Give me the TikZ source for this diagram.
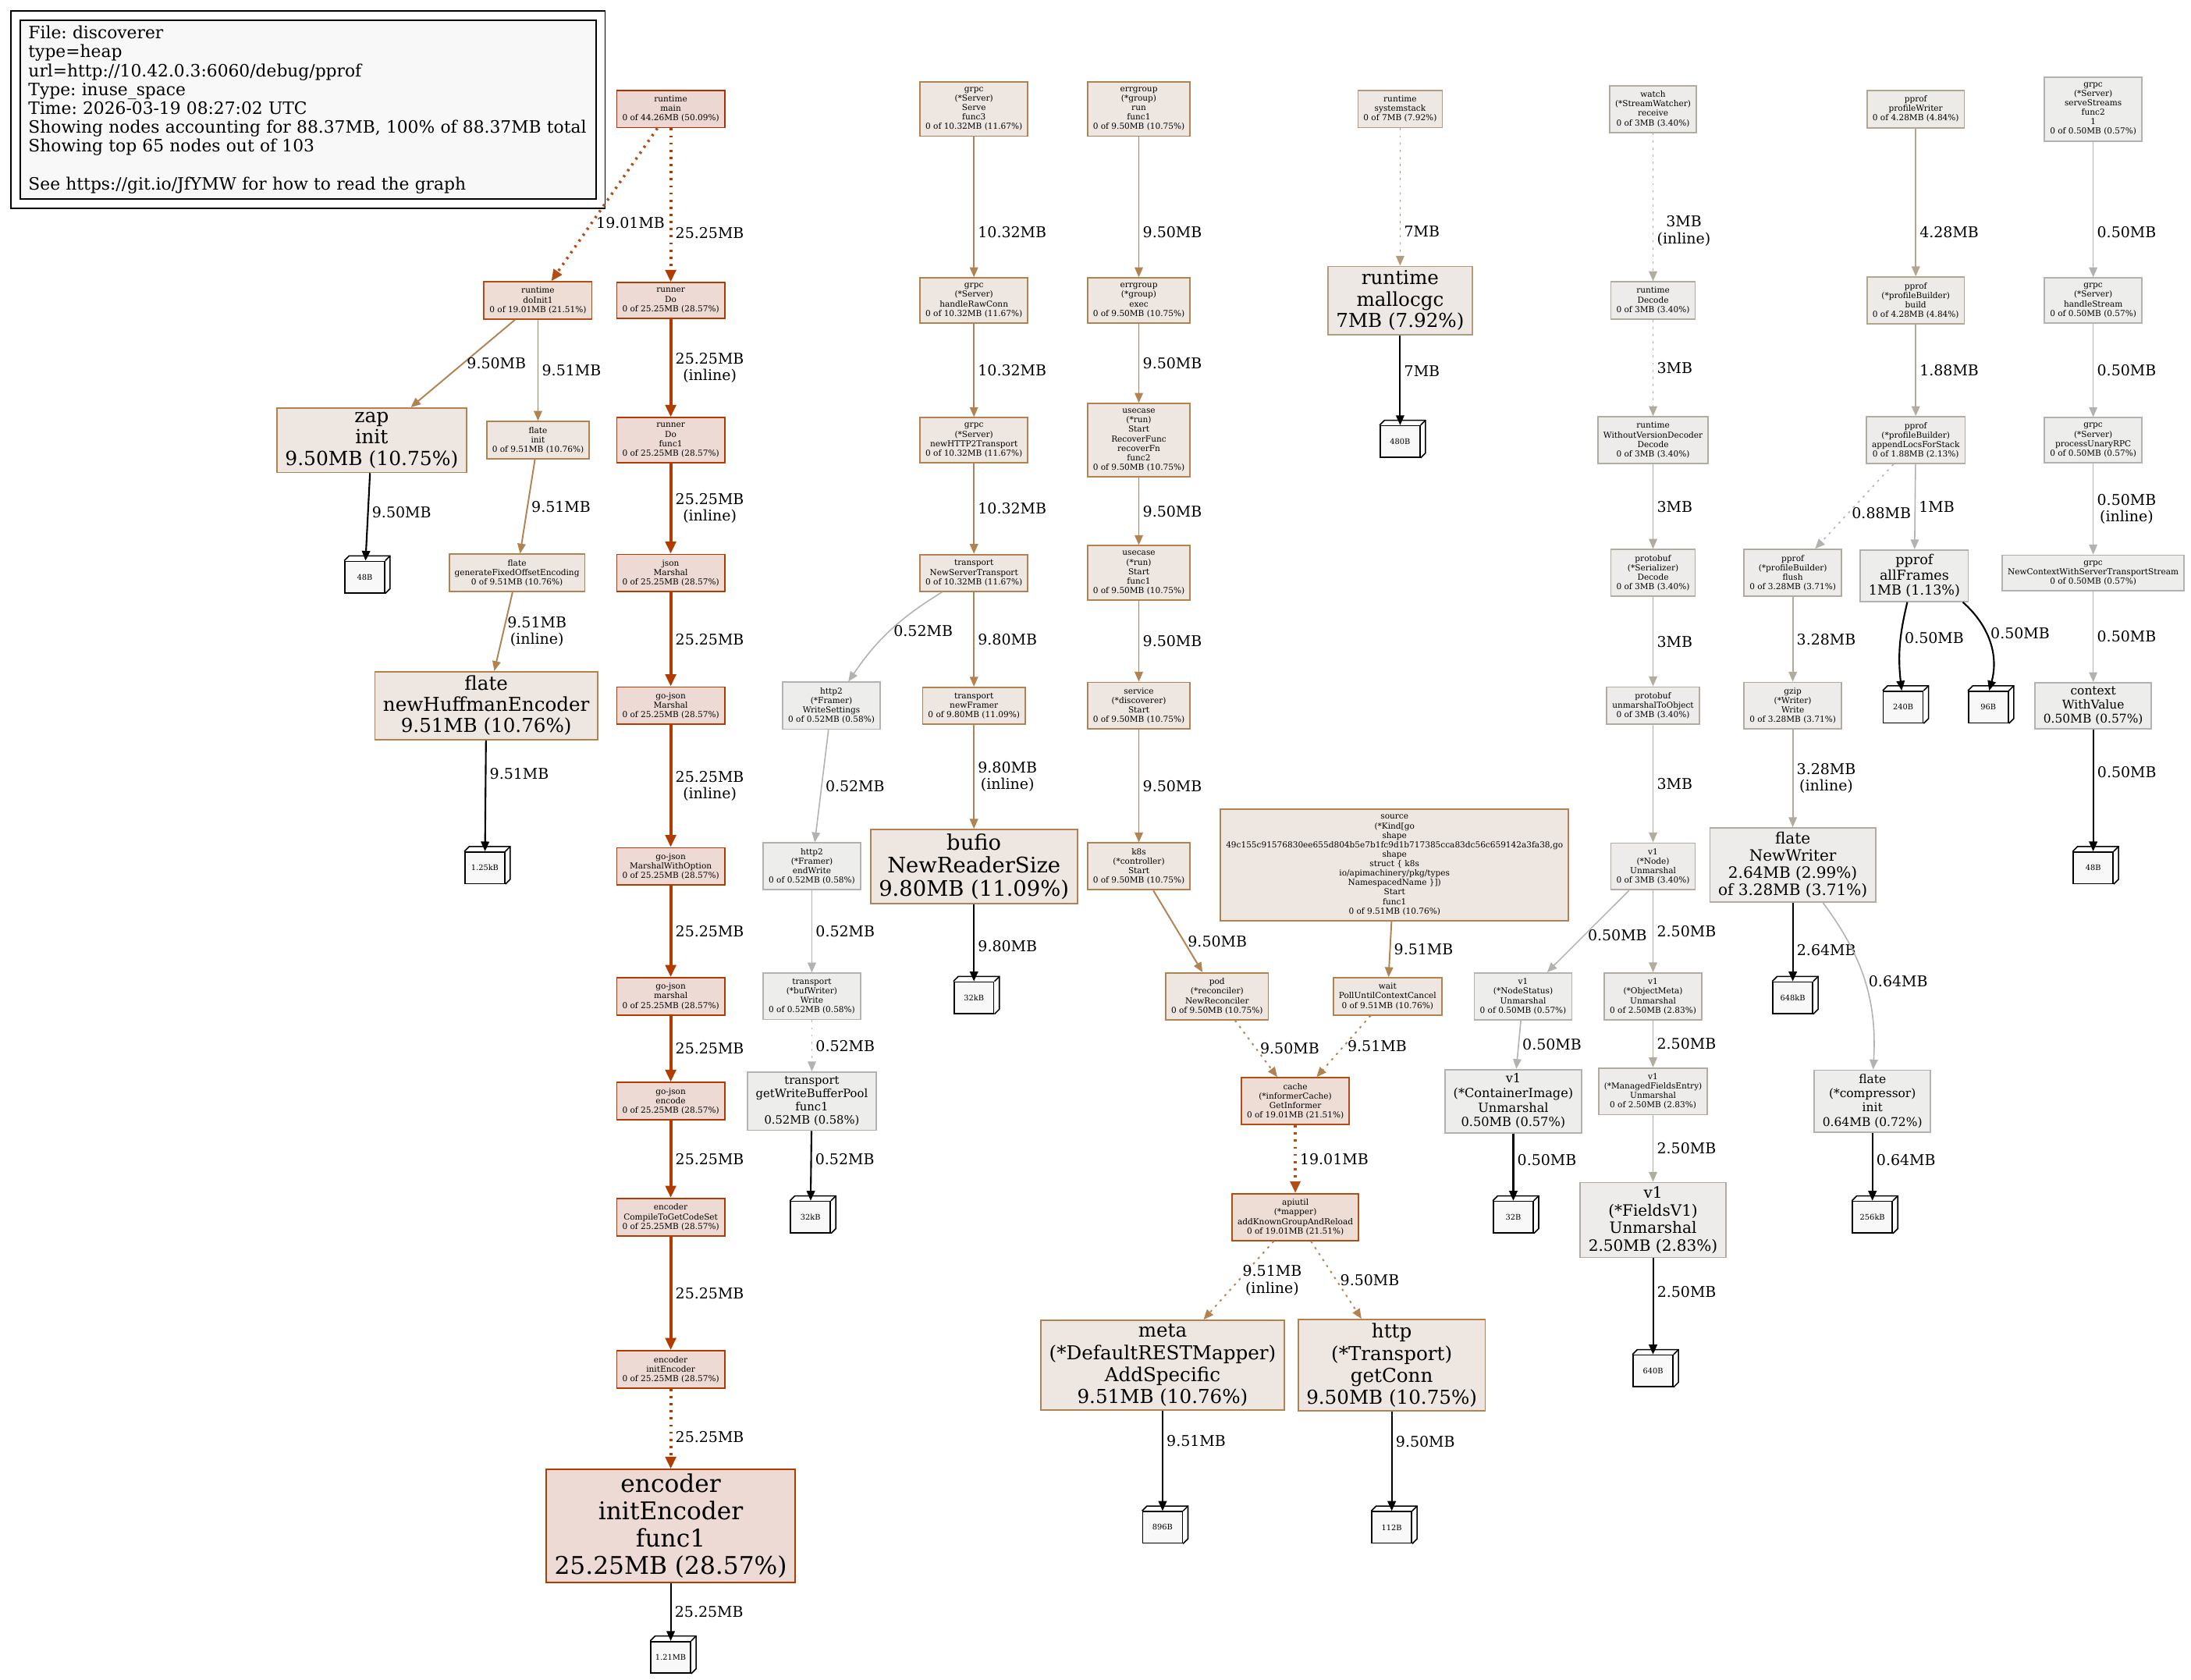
\documentclass[tikz,border=0pt]{standalone}
\usepackage{fontspec}
\setmainfont{DejaVu Serif}
\usetikzlibrary{arrows.meta,calc}
\frenchspacing
\definecolor{redln}{HTML}{B22E00}
\definecolor{hotln}{HTML}{B23C00}
\definecolor{orgln}{HTML}{B24D14}
\definecolor{tanln}{HTML}{B28350}
\definecolor{sandln}{HTML}{B29A7C}
\definecolor{beigeln}{HTML}{B2A68F}
\definecolor{greyln}{HTML}{B2ACA0}
\definecolor{lightln}{HTML}{B2B2B0}
\definecolor{redfl}{HTML}{EDD7D2}
\definecolor{hotfl}{HTML}{EDDAD5}
\definecolor{orgfl}{HTML}{EDDDD5}
\definecolor{tanfl}{HTML}{EDE6E1}
\definecolor{sandfl}{HTML}{EDE8E4}
\definecolor{beigefl}{HTML}{EDEBE8}
\definecolor{greyfl}{HTML}{EDECEA}
\definecolor{lightfl}{HTML}{EDEDEC}
\definecolor{memfl}{HTML}{F8F8F8}
\newcommand{\fz}[2]{\fontsize{#1}{#2}\selectfont}
% memory block drawn as a 3d box
\newcommand{\memblk}[3]{%
  \node[mem] (#1) at (#2) {#3};
  \draw[memside] (#1.north west) -- ++(3.5,-3.5) -| ($(#1.south east)+(3.5,-3.5)$) -- (#1.south east);
  \draw[memside] (#1.north east) -- ++(3.5,-3.5);}
\tikzset{
  fn/.style={draw, line width=0.5pt, align=center, inner xsep=2pt, inner ysep=2pt, font=\fz{3}{3.45}},
  big/.style={inner xsep=3pt, inner ysep=1.5pt},
  c50/.style={draw=redln, fill=redfl},
  c28/.style={draw=hotln, fill=hotfl},
  c21/.style={draw=orgln, fill=orgfl},
  c10/.style={draw=tanln, fill=tanfl},
  c8/.style={draw=sandln, fill=sandfl},
  c5/.style={draw=beigeln, fill=beigefl},
  c3/.style={draw=greyln, fill=greyfl},
  c0/.style={draw=lightln, fill=lightfl},
  mem/.style={draw=black, fill=memfl, line width=0.45pt, minimum width=14.5pt, minimum height=11.5pt, inner sep=1pt, font=\fz{2.8}{3.2}},
  memside/.style={draw=black, line width=0.45pt},
  lab/.style={right, align=center, font=\fz{5.4}{6.1}, inner sep=1.2pt, text=black},
  e28/.style={->, draw=hotln, line width=1.1pt, >={Triangle[length=4.4pt,width=3.8pt]}},
  e21/.style={->, draw=orgln, line width=1pt, >={Triangle[length=4.2pt,width=3.6pt]}},
  e10/.style={->, draw=tanln, line width=0.55pt},
  e8/.style={->, draw=sandln, line width=0.5pt},
  e5/.style={->, draw=beigeln, line width=0.5pt},
  e3/.style={->, draw=greyln, line width=0.5pt},
  e0/.style={->, draw=lightln, line width=0.45pt},
  eblk/.style={->, draw=black, line width=0.6pt},
  dotty/.style={dash pattern=on 0.8pt off 1.8pt},
  lgdbox/.style={draw, line width=0.5pt, fill=memfl, align=left, text width=204pt, inner xsep=3pt, inner ysep=2pt, font=\fz{6.2}{6.9}}
}
\begin{document}
\begin{tikzpicture}[x=0.01791cm, y=-0.01791cm, >={Triangle[length=3.6pt,width=3pt]}]
  \fill[white] (0,0) rectangle (1568,1202);
  \useasboundingbox (0,0) rectangle (1568,1202);
  % legend
  \node[lgdbox, anchor=north west] (lgd) at (14,14) {File: discoverer\\type=heap\\url=http://10.42.0.3:6060/debug/pprof\\Type: inuse\_space\\Time: 2026-03-19 08:27:02 UTC\\Showing nodes accounting for 88.37MB, 100\% of 88.37MB total\\Showing top 65 nodes out of 103\\[6.9pt]See https://git.io/JfYMW for how to read the graph};
  \draw[line width=0.5pt] ($(lgd.north west)+(-6,-6)$) rectangle ($(lgd.south east)+(6,6)$);

  % runtime main chain
  \node[fn,c50] (rtmain) at (480,78) {runtime\\main\\0 of 44.26MB (50.09\%)};
  \node[fn,c21] (doinit) at (385,215) {runtime\\doInit1\\0 of 19.01MB (21.51\%)};
  \node[fn,c28] (rdo) at (480,215) {runner\\Do\\0 of 25.25MB (28.57\%)};
  \node[fn,big,c10,font=\fz{7.1}{7.8}] (zap) at (266,315) {zap\\init\\9.50MB (10.75\%)};
  \node[fn,c10] (flinit) at (385,315) {flate\\init\\0 of 9.51MB (10.76\%)};
  \node[fn,c28] (rdof) at (480,315) {runner\\Do\\func1\\0 of 25.25MB (28.57\%)};
  \memblk{m48a}{261,413}{48B}
  \node[fn,c10] (flgen) at (370,410) {flate\\generateFixedOffsetEncoding\\0 of 9.51MB (10.76\%)};
  \node[fn,c28] (jsonm) at (480,410) {json\\Marshal\\0 of 25.25MB (28.57\%)};
  \node[fn,big,c10,font=\fz{7}{7.7}] (huff) at (348,505) {flate\\newHuffmanEncoder\\9.51MB (10.76\%)};
  \node[fn,c28] (gojm) at (480,505) {go-json\\Marshal\\0 of 25.25MB (28.57\%)};
  \memblk{m125}{347,621}{1.25kB}
  \node[fn,c28] (gojmwo) at (480,620) {go-json\\MarshalWithOption\\0 of 25.25MB (28.57\%)};
  \node[fn,c28] (gojmar) at (480,713) {go-json\\marshal\\0 of 25.25MB (28.57\%)};
  \node[fn,c28] (gojenc) at (480,788) {go-json\\encode\\0 of 25.25MB (28.57\%)};
  \node[fn,c28] (enccomp) at (480,871) {encoder\\CompileToGetCodeSet\\0 of 25.25MB (28.57\%)};
  \node[fn,c28] (encinit) at (480,980) {encoder\\initEncoder\\0 of 25.25MB (28.57\%)};
  \node[fn,big,c28,font=\fz{8.9}{10}] (encf1) at (480,1092) {encoder\\initEncoder\\func1\\25.25MB (28.57\%)};
  \memblk{m121}{480,1186}{1.21MB}

  % grpc serve chain
  \node[fn,c10] (gserve) at (697,78) {grpc\\(*Server)\\Serve\\func3\\0 of 10.32MB (11.67\%)};
  \node[fn,c10] (ghraw) at (697,215) {grpc\\(*Server)\\handleRawConn\\0 of 10.32MB (11.67\%)};
  \node[fn,c10] (gnewh2) at (697,315) {grpc\\(*Server)\\newHTTP2Transport\\0 of 10.32MB (11.67\%)};
  \node[fn,c10] (tnst) at (697,410) {transport\\NewServerTransport\\0 of 10.32MB (11.67\%)};
  \node[fn,c0] (h2ws) at (595,505) {http2\\(*Framer)\\WriteSettings\\0 of 0.52MB (0.58\%)};
  \node[fn,c10] (tnf) at (697,505) {transport\\newFramer\\0 of 9.80MB (11.09\%)};
  \node[fn,c0] (h2ew) at (581,620) {http2\\(*Framer)\\endWrite\\0 of 0.52MB (0.58\%)};
  \node[fn,big,c10,font=\fz{7.8}{8.4}] (bufio) at (697,620) {bufio\\NewReaderSize\\9.80MB (11.09\%)};
  \node[fn,c0] (tbw) at (581,713) {transport\\(*bufWriter)\\Write\\0 of 0.52MB (0.58\%)};
  \memblk{m32ka}{697,714}{32kB}
  \node[fn,big,c0,font=\fz{4.2}{4.9}] (tgwb) at (581,788) {transport\\getWriteBufferPool\\func1\\0.52MB (0.58\%)};
  \memblk{m32kb}{580,871}{32kB}

  % errgroup chain
  \node[fn,c10] (egrun) at (815,78) {errgroup\\(*group)\\run\\func1\\0 of 9.50MB (10.75\%)};
  \node[fn,c10] (egexec) at (815,215) {errgroup\\(*group)\\exec\\0 of 9.50MB (10.75\%)};
  \node[fn,c10] (ucrec) at (815,315) {usecase\\(*run)\\Start\\RecoverFunc\\recoverFn\\func2\\0 of 9.50MB (10.75\%)};
  \node[fn,c10] (ucstart) at (815,410) {usecase\\(*run)\\Start\\func1\\0 of 9.50MB (10.75\%)};
  \node[fn,c10] (svc) at (815,505) {service\\(*discoverer)\\Start\\0 of 9.50MB (10.75\%)};
  \node[fn,c10] (k8s) at (815,620) {k8s\\(*controller)\\Start\\0 of 9.50MB (10.75\%)};
  \node[fn,c10] (pod) at (871,713) {pod\\(*reconciler)\\NewReconciler\\0 of 9.50MB (10.75\%)};
  \node[fn,c10] (src) at (998,619) {source\\(*Kind[go\\shape\\49c155c91576830ee655d804b5e7b1fc9d1b717385cca83dc56c659142a3fa38,go\\shape\\struct \{ k8s\\io/apimachinery/pkg/types\\NamespacedName \}])\\Start\\func1\\0 of 9.51MB (10.76\%)};
  \node[fn,c10] (wait) at (993,713) {wait\\PollUntilContextCancel\\0 of 9.51MB (10.76\%)};
  \node[fn,c21] (cache) at (927,788) {cache\\(*informerCache)\\GetInformer\\0 of 19.01MB (21.51\%)};
  \node[fn,c21] (apiutil) at (927,871) {apiutil\\(*mapper)\\addKnownGroupAndReload\\0 of 19.01MB (21.51\%)};
  \node[fn,big,c10,font=\fz{7}{8}] (meta) at (832,977) {meta\\(*DefaultRESTMapper)\\AddSpecific\\9.51MB (10.76\%)};
  \node[fn,big,c10,font=\fz{7}{8}] (http) at (996,977) {http\\(*Transport)\\getConn\\9.50MB (10.75\%)};
  \memblk{m896}{832,1093}{896B}
  \memblk{m112}{996,1093}{112B}

  % systemstack
  \node[fn,c8] (rtss) at (1002,78) {runtime\\systemstack\\0 of 7MB (7.92\%)};
  \node[fn,big,c8,font=\fz{7}{7.8}] (malloc) at (1002,215) {runtime\\mallocgc\\7MB (7.92\%)};
  \memblk{m480}{1002,316}{480B}

  % watch chain
  \node[fn,c3] (watch) at (1183,78) {watch\\(*StreamWatcher)\\receive\\0 of 3MB (3.40\%)};
  \node[fn,c3] (rtdec) at (1183,215) {runtime\\Decode\\0 of 3MB (3.40\%)};
  \node[fn,c3] (rtwvd) at (1183,315) {runtime\\WithoutVersionDecoder\\Decode\\0 of 3MB (3.40\%)};
  \node[fn,c3] (pbdec) at (1183,410) {protobuf\\(*Serializer)\\Decode\\0 of 3MB (3.40\%)};
  \node[fn,c3] (pbuto) at (1183,505) {protobuf\\unmarshalToObject\\0 of 3MB (3.40\%)};
  \node[fn,c3] (v1node) at (1183,620) {v1\\(*Node)\\Unmarshal\\0 of 3MB (3.40\%)};
  \node[fn,c0] (v1ns) at (1090,713) {v1\\(*NodeStatus)\\Unmarshal\\0 of 0.50MB (0.57\%)};
  \node[fn,c3] (v1om) at (1183,713) {v1\\(*ObjectMeta)\\Unmarshal\\0 of 2.50MB (2.83\%)};
  \node[fn,big,c0,font=\fz{4.6}{5.3}] (v1ci) at (1083,788) {v1\\(*ContainerImage)\\Unmarshal\\0.50MB (0.57\%)};
  \node[fn,c3] (v1mfe) at (1183,781) {v1\\(*ManagedFieldsEntry)\\Unmarshal\\0 of 2.50MB (2.83\%)};
  \memblk{m32b}{1083,871}{32B}
  \node[fn,big,c3,font=\fz{5.7}{6.4}] (v1fv1) at (1183,873) {v1\\(*FieldsV1)\\Unmarshal\\2.50MB (2.83\%)};
  \memblk{m640}{1183,981}{640B}

  % pprof chain
  \node[fn,c5] (ppw) at (1371,78) {pprof\\profileWriter\\0 of 4.28MB (4.84\%)};
  \node[fn,c5] (ppbuild) at (1371,215) {pprof\\(*profileBuilder)\\build\\0 of 4.28MB (4.84\%)};
  \node[fn,c3] (ppals) at (1371,315) {pprof\\(*profileBuilder)\\appendLocsForStack\\0 of 1.88MB (2.13\%)};
  \node[fn,c3] (ppflush) at (1283,410) {pprof\\(*profileBuilder)\\flush\\0 of 3.28MB (3.71\%)};
  \node[fn,big,c0,font=\fz{5}{5.6}] (ppaf) at (1370,412) {pprof\\allFrames\\1MB (1.13\%)};
  \node[fn,c3] (gzip) at (1283,505) {gzip\\(*Writer)\\Write\\0 of 3.28MB (3.71\%)};
  \memblk{m240}{1362,506}{240B}
  \memblk{m96}{1423,506}{96B}
  \node[fn,big,c3,font=\fz{5.7}{6.3}] (flnw) at (1283,619) {flate\\NewWriter\\2.64MB (2.99\%)\\of 3.28MB (3.71\%)};
  \memblk{m648}{1283,714}{648kB}
  \node[fn,big,c0,font=\fz{4.4}{5.2}] (flcomp) at (1340,788) {flate\\(*compressor)\\init\\0.64MB (0.72\%)};
  \memblk{m256}{1340,871}{256kB}

  % grpc stream chain
  \node[fn,c0] (gss) at (1498,78) {grpc\\(*Server)\\serveStreams\\func2\\1\\0 of 0.50MB (0.57\%)};
  \node[fn,c0] (ghs) at (1498,215) {grpc\\(*Server)\\handleStream\\0 of 0.50MB (0.57\%)};
  \node[fn,c0] (gpur) at (1498,315) {grpc\\(*Server)\\processUnaryRPC\\0 of 0.50MB (0.57\%)};
  \node[fn,c0] (gnc) at (1498,410) {grpc\\NewContextWithServerTransportStream\\0 of 0.50MB (0.57\%)};
  \node[fn,big,c0,font=\fz{4.4}{5}] (ctx) at (1498,505) {context\\WithValue\\0.50MB (0.57\%)};
  \memblk{m48b}{1498,621}{48B}

  % edges
  \draw[e21,dotty] (rtmain) -- node[lab,pos=.62]{19.01MB} (doinit);
  \draw[e28,dotty] (rtmain) -- node[lab,pos=.68]{25.25MB} (rdo);
  \draw[e10] (doinit) -- node[lab]{9.50MB} (zap);
  \draw[e10] (doinit) -- node[lab]{9.51MB} (flinit);
  \draw[e28] (rdo) -- node[lab]{25.25MB\\(inline)} (rdof);
  \draw[e28] (rdof) -- node[lab]{25.25MB\\(inline)} (jsonm);
  \draw[eblk] (zap) -- node[lab,pos=.45]{9.50MB} (m48a);
  \draw[e10] (flinit) -- node[lab]{9.51MB} (flgen);
  \draw[e28] (jsonm) -- node[lab]{25.25MB} (gojm);
  \draw[e10] (flgen) -- node[lab]{9.51MB\\(inline)} (huff);
  \draw[e28] (gojm) -- node[lab]{25.25MB\\(inline)} (gojmwo);
  \draw[eblk] (huff) -- node[lab,pos=.3]{9.51MB} (m125);
  \draw[e28] (gojmwo) -- node[lab]{25.25MB} (gojmar);
  \draw[e28] (gojmar) -- node[lab]{25.25MB} (gojenc);
  \draw[e28] (gojenc) -- node[lab]{25.25MB} (enccomp);
  \draw[e28] (enccomp) -- node[lab]{25.25MB} (encinit);
  \draw[e28,dotty] (encinit) -- node[lab,pos=.6]{25.25MB} (encf1);
  \draw[eblk] (encf1) -- node[lab]{25.25MB} (m121);

  \draw[e10] (gserve) -- node[lab,pos=.68]{10.32MB} (ghraw);
  \draw[e10] (ghraw) -- node[lab]{10.32MB} (gnewh2);
  \draw[e10] (gnewh2) -- node[lab]{10.32MB} (tnst);
  \draw[e0] (tnst) to[bend right=12] node[lab]{0.52MB} (h2ws);
  \draw[e10] (tnst) -- node[lab]{9.80MB} (tnf);
  \draw[e0] (h2ws) -- node[lab]{0.52MB} (h2ew);
  \draw[e10] (tnf) -- node[lab]{9.80MB\\(inline)} (bufio);
  \draw[e0] (h2ew) -- node[lab]{0.52MB} (tbw);
  \draw[eblk] (bufio) -- node[lab,pos=.55]{9.80MB} (m32ka);
  \draw[e0,dotty] (tbw) -- node[lab]{0.52MB} (tgwb);
  \draw[eblk] (tgwb) -- node[lab,pos=.4]{0.52MB} (m32kb);

  \draw[e10] (egrun) -- node[lab,pos=.68]{9.50MB} (egexec);
  \draw[e10] (egexec) -- node[lab]{9.50MB} (ucrec);
  \draw[e10] (ucrec) -- node[lab]{9.50MB} (ucstart);
  \draw[e10] (ucstart) -- node[lab]{9.50MB} (svc);
  \draw[e10] (svc) -- node[lab]{9.50MB} (k8s);
  \draw[e10] (k8s) -- node[lab,pos=.62]{9.50MB} (pod);
  \draw[e10] (src) -- node[lab]{9.51MB} (wait);
  \draw[e10,dotty] (pod) -- node[lab]{9.50MB} (cache);
  \draw[e10,dotty] (wait) -- node[lab]{9.51MB} (cache);
  \draw[e21,dotty] (cache) -- node[lab]{19.01MB} (apiutil);
  \draw[e10,dotty] (apiutil) -- node[lab]{9.51MB\\(inline)} (meta);
  \draw[e10,dotty] (apiutil) -- node[lab]{9.50MB} (http);
  \draw[eblk] (meta) -- node[lab,pos=.3]{9.51MB} (m896);
  \draw[eblk] (http) -- node[lab,pos=.3]{9.50MB} (m112);

  \draw[e8,dotty] (rtss) -- node[lab,pos=.75]{7MB} (malloc);
  \draw[eblk] (malloc) -- node[lab,pos=.4]{7MB} (m480);

  \draw[e3,dotty] (watch) -- node[lab,pos=.66]{3MB\\(inline)} (rtdec);
  \draw[e3,dotty] (rtdec) -- node[lab]{3MB} (rtwvd);
  \draw[e3] (rtwvd) -- node[lab]{3MB} (pbdec);
  \draw[e3] (pbdec) -- node[lab]{3MB} (pbuto);
  \draw[e3] (pbuto) -- node[lab]{3MB} (v1node);
  \draw[e0] (v1node) -- node[lab,pos=.55]{0.50MB} (v1ns);
  \draw[e3] (v1node) -- node[lab]{2.50MB} (v1om);
  \draw[e0] (v1ns) -- node[lab]{0.50MB} (v1ci);
  \draw[e3] (v1om) -- node[lab]{2.50MB} (v1mfe);
  \draw[eblk] (v1ci) -- node[lab,pos=.4]{0.50MB} (m32b);
  \draw[e3] (v1mfe) -- node[lab]{2.50MB} (v1fv1);
  \draw[eblk] (v1fv1) -- node[lab,pos=.35]{2.50MB} (m640);

  \draw[e5] (ppw) -- node[lab,pos=.7]{4.28MB} (ppbuild);
  \draw[e3] (ppbuild) -- node[lab]{1.88MB} (ppals);
  \draw[e0,dotty] (ppals) -- node[lab,pos=.58]{0.88MB} (ppflush);
  \draw[e0] (ppals) -- node[lab]{1MB} (ppaf);
  \draw[e3] (ppflush) -- node[lab]{3.28MB} (gzip);
  \draw[eblk] (ppaf) to[bend right=10] node[lab,pos=.4]{0.50MB} (m240);
  \draw[eblk] (ppaf) to[bend left=32] node[lab,pos=.4]{0.50MB} (m96);
  \draw[e3] (gzip) -- node[lab]{3.28MB\\(inline)} (flnw);
  \draw[eblk] (flnw) -- node[lab,pos=.6]{2.64MB} (m648);
  \draw[e0] (flnw) to[bend left=20] node[lab]{0.64MB} (flcomp);
  \draw[eblk] (flcomp) -- node[lab,pos=.4]{0.64MB} (m256);

  \draw[e0] (gss) -- node[lab,pos=.67]{0.50MB} (ghs);
  \draw[e0] (ghs) -- node[lab]{0.50MB} (gpur);
  \draw[e0] (gpur) -- node[lab]{0.50MB\\(inline)} (gnc);
  \draw[e0] (gnc) -- node[lab]{0.50MB} (ctx);
  \draw[eblk] (ctx) -- node[lab,pos=.35]{0.50MB} (m48b);
\end{tikzpicture}
\end{document}
